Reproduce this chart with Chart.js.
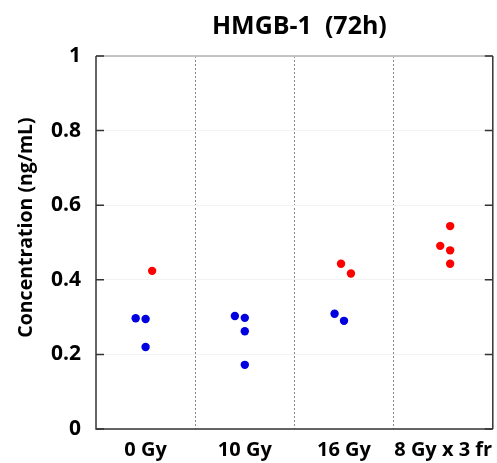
<!DOCTYPE html>
<html>
<head>
<meta charset="utf-8">
<script src="https://cdn.jsdelivr.net/npm/chart.js@4"></script>
<style>
html,body{margin:0;padding:0;background:#fff;}
#wrap{width:497px;height:463px;}
</style>
</head>
<body>
<div id="wrap"><canvas id="c" width="497" height="463"></canvas></div>
<script>
const titleText = 'HMGB-1  (72h)';
const yTitle = 'Concentration (ng/mL)';
const categories = ['0 Gy', '10 Gy', '16 Gy', '8 Gy x 3 fr'];
const yTicks = [0, 0.2, 0.4, 0.6, 0.8, 1];

// blue series: category index, horizontal jitter (category units), value
const blueGroup  = [0, 0, 0, 1, 1, 1, 1, 2, 2];
const blueJitter = [-0.1, 0, 0, -0.1, 0, 0, 0, -0.095, 0];
const blueValues = [0.297, 0.295, 0.22, 0.303, 0.298, 0.262, 0.172, 0.309, 0.29];

// red series
const redGroup  = [0, 2, 2, 3, 3, 3, 3];
const redJitter = [0.066, -0.03, 0.07, 0.07, -0.03, 0.07, 0.07];
const redValues = [0.424, 0.443, 0.417, 0.544, 0.491, 0.479, 0.443];

const FONT = "'Open Sans', 'Liberation Sans', sans-serif";

function pts(g, j, v) { return v.map((y, i) => ({ x: g[i] + 1 + j[i], y: y })); }

const frame = {
  id: 'frame',
  afterDatasetsDraw(chart) {
    const { ctx, chartArea: a, scales } = chart;
    ctx.save();
    ctx.lineWidth = 1.5;
    ctx.strokeStyle = '#b0b0b0';
    ctx.beginPath(); ctx.moveTo(a.left, a.top); ctx.lineTo(a.right, a.top); ctx.stroke();
    ctx.strokeStyle = '#333';
    ctx.beginPath(); ctx.moveTo(a.right, a.top); ctx.lineTo(a.right, a.bottom); ctx.stroke();
    ctx.beginPath(); ctx.moveTo(a.left, a.top); ctx.lineTo(a.left, a.bottom); ctx.lineTo(a.right, a.bottom); ctx.stroke();
    yTicks.forEach(t => {
      const y = scales.y.getPixelForValue(t);
      ctx.beginPath();
      ctx.moveTo(a.left, y); ctx.lineTo(a.left + 8, y);
      ctx.moveTo(a.right, y); ctx.lineTo(a.right - 8, y);
      ctx.stroke();
    });
    ctx.fillStyle = '#000';
    ctx.textAlign = 'center';
    ctx.textBaseline = 'middle';
    // chart title
    ctx.font = "bold 25px " + FONT;
    ctx.fillText(titleText, (a.left + a.right) / 2 + 5, a.top - 29);
    // y-axis title
    ctx.font = "bold 19.5px " + FONT;
    ctx.translate(26, (a.top + a.bottom) / 2 - 15);
    ctx.rotate(-Math.PI / 2);
    ctx.fillText(yTitle, 0, 0);
    ctx.restore();
  }
};

new Chart(document.getElementById('c'), {
  type: 'scatter',
  data: {
    datasets: [
      { data: pts(blueGroup, blueJitter, blueValues), backgroundColor: '#0000e0', borderColor: '#0000e0', pointRadius: 4.2, borderWidth: 0 },
      { data: pts(redGroup, redJitter, redValues), backgroundColor: '#ff0000', borderColor: '#ff0000', pointRadius: 4.2, borderWidth: 0 }
    ]
  },
  options: {
    responsive: false,
    animation: false,
    layout: { padding: { left: 0, right: 4, top: 56, bottom: 0 } },
    plugins: {
      legend: { display: false },
      tooltip: { enabled: false },
      title: { display: false }
    },
    scales: {
      x: {
        type: 'linear', min: 0.5, max: 4.5,
        afterBuildTicks(scale) {
          scale.ticks = [1, 1.5, 2, 2.5, 3, 3.5, 4].map(v => ({ value: v }));
        },
        afterFit(scale) { scale.height = 34; scale.paddingLeft = 0; scale.paddingRight = 0; },
        ticks: {
          autoSkip: false, maxRotation: 0, padding: 9, color: '#000',
          font: { family: FONT, size: 20, weight: 'bold' },
          callback(v) { return Number.isInteger(v) ? categories[v - 1] : ''; }
        },
        grid: {
          drawTicks: false,
          color(ctx) { return ctx.tick && !Number.isInteger(ctx.tick.value) ? '#888' : 'rgba(0,0,0,0)'; },
          lineWidth: 1
        },
        border: { display: false, dash: [2, 2] }
      },
      y: {
        min: 0, max: 1,
        afterBuildTicks(scale) { scale.ticks = yTicks.map(v => ({ value: v })); },
        afterFit(scale) { scale.width = 96; scale.paddingTop = 0; scale.paddingBottom = 0; },
        ticks: {
          padding: 15, color: '#000',
          font: { family: FONT, size: 21, weight: 'bold' },
          callback(v) { return String(v); }
        },
        grid: { drawTicks: false, color: '#f3f3f3', lineWidth: 1 },
        border: { display: false }
      }
    }
  },
  plugins: [frame]
});
</script>
</body>
</html>
